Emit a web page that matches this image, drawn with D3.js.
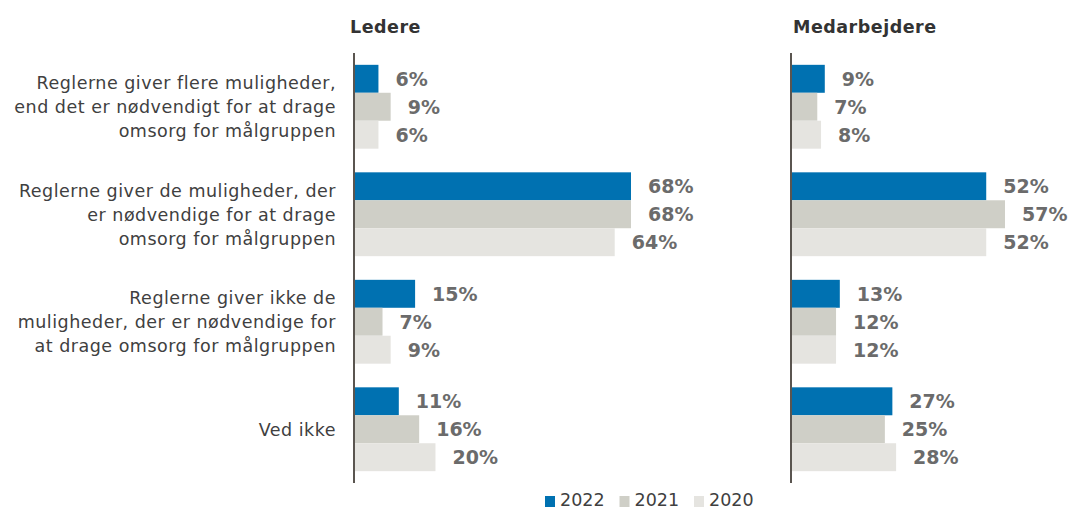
<!DOCTYPE html>
<html>
<head>
<meta charset="utf-8">
<script src="https://cdn.jsdelivr.net/npm/d3@7"></script>
<style>
  body { margin: 0; background: #fff; }
  svg { display: block; font-family: "DejaVu Sans", Verdana, sans-serif; }
</style>
</head>
<body>
<svg id="chart" width="1072" height="509"></svg>
<script>
const CATEGORIES = [
  ["Reglerne giver flere muligheder,", "end det er nødvendigt for at drage", "omsorg for målgruppen"],
  ["Reglerne giver de muligheder, der", "er nødvendige for at drage", "omsorg for målgruppen"],
  ["Reglerne giver ikke de", "muligheder, der er nødvendige for", "at drage omsorg for målgruppen"],
  ["Ved ikke"],
];
const YEARS = ["2022", "2021", "2020"];
const LEDERE = [
  [6, 9, 6],
  [68, 68, 64],
  [15, 7, 9],
  [11, 16, 20],
];
const MEDARBEJDERE = [
  [9, 7, 8],
  [52, 57, 52],
  [13, 12, 12],
  [27, 25, 28],
];

const COLORS = { "2022": "#0071b1", "2021": "#cfcfc7", "2020": "#e5e4e0" };

const svg = d3.select("#chart");

const y = d3.scaleBand().domain(d3.range(CATEGORIES.length)).range([53, 483]).paddingInner(0.22).paddingOuter(0.11);
const yInner = d3.scaleBand().domain(YEARS).range([0, y.bandwidth()]);

function drawPanel(title, titleX, data, x0, x1, maxVal) {
  const x = d3.scaleLinear().domain([0, maxVal]).range([x0, x1]);
  const g = svg.append("g");

  g.append("text")
    .attr("x", titleX)
    .attr("y", 33)
    .attr("font-size", 17.5)
    .attr("font-weight", "bold")
    .attr("letter-spacing", 0.5)
    .attr("fill", "#333")
    .text(title);

  data.forEach((vals, i) => {
    const grp = g.append("g").attr("transform", `translate(0,${y(i)})`);
    YEARS.forEach((yr, j) => {
      grp.append("rect")
        .attr("x", x(0))
        .attr("y", yInner(yr))
        .attr("width", x(vals[j]) - x(0))
        .attr("height", yInner.bandwidth())
        .attr("fill", COLORS[yr]);
      grp.append("text")
        .attr("x", x(vals[j]) + 17)
        .attr("y", yInner(yr) + yInner.bandwidth() / 2)
        .attr("dy", "0.36em")
        .attr("font-size", 19)
        .attr("font-weight", "bold")
        .attr("fill", "#6b6b6b")
        .text(vals[j] + "%");
    });
  });

  g.append("line")
    .attr("x1", x(0)).attr("x2", x(0))
    .attr("y1", y.range()[0]).attr("y2", y.range()[1])
    .attr("stroke", "#5a5550")
    .attr("stroke-width", 2);
}

drawPanel("Ledere", 350, LEDERE, 354, 631, 68);
drawPanel("Medarbejdere", 793, MEDARBEJDERE, 791, 1005, 57);

// category labels
CATEGORIES.forEach((lines, i) => {
  const cy = y(i) + y.bandwidth() / 2;
  const lh = 24;
  const t = svg.append("text")
    .attr("text-anchor", "end")
    .attr("font-size", 17.5)
    .attr("letter-spacing", 0.5)
    .attr("fill", "#404040");
  lines.forEach((ln, k) => {
    t.append("tspan")
      .attr("x", 336)
      .attr("y", cy + (k - (lines.length - 1) / 2) * lh)
      .attr("dy", "0.36em")
      .text(ln);
  });
});

// legend
const legend = svg.append("g").attr("transform", "translate(545,500)");
let lx = 0;
YEARS.forEach((yr) => {
  legend.append("rect").attr("x", lx).attr("y", -4).attr("width", 10).attr("height", 11).attr("fill", COLORS[yr]);
  legend.append("text")
    .attr("x", lx + 15)
    .attr("y", 0)
    .attr("dy", "0.36em")
    .attr("font-size", 17.5)
    .attr("fill", "#404040")
    .text(yr);
  lx += 74.5;
});
</script>
</body>
</html>
